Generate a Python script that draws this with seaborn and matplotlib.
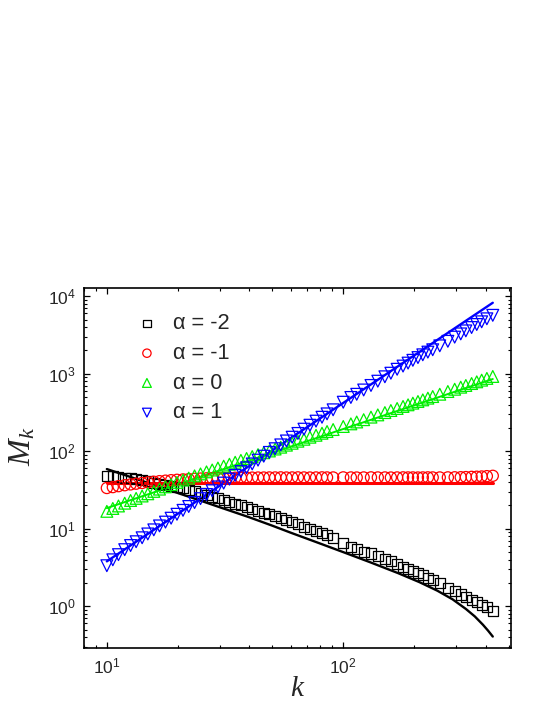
import matplotlib
matplotlib.use("Agg")
import matplotlib.pyplot as plt
import seaborn as sns
from matplotlib.ticker import LogLocator, LogFormatterSciNotation, NullFormatter

# degree k of the markers (shared by all four series)
k = [10.0, 10.6, 11.2, 11.9, 12.6, 13.3, 14.1, 14.9, 15.8, 16.7,
     17.7, 18.7, 19.8, 21.0, 22.2, 23.5, 24.9, 26.4, 27.9, 29.5,
     31.2, 33.0, 34.9, 36.9, 39.0, 41.2, 43.6, 46.1, 48.7, 51.5,
     54.4, 57.5, 60.8, 64.3, 68.2, 72.3, 76.7, 81.3, 85.4, 90.6,
     100, 107.7, 114, 122, 131, 140, 150, 159, 169, 179,
     188, 197, 207, 217, 228, 239, 256, 277, 296, 314,
     330, 349, 367, 385, 405, 429]

# simulation points
m_a_m2 = [48, 47.5, 46.8, 45.8, 44.8, 43.5, 42.2, 40.8, 39.5, 38.2,
          37.0, 35.8, 34.6, 33.3, 31.8, 30.3, 28.9, 27.4, 26.0, 24.7,
          23.4, 22.2, 21.0, 20.0, 19.0, 18.0, 17.0, 16.1, 15.3, 14.5,
          13.7, 12.9, 12.2, 11.4, 10.6, 10.0, 9.3, 8.7, 8.2, 7.5,
          6.5, 5.9, 5.5, 5.05, 4.8, 4.4, 4.08, 3.8, 3.5, 3.22,
          3.05, 2.88, 2.7, 2.52, 2.35, 2.17, 1.98, 1.72, 1.56, 1.42,
          1.3, 1.22, 1.12, 1.05, 0.98, 0.86]
m_a_m1 = [33.6, 34.5, 35.5, 36.5, 37.4, 38.2, 39.0, 39.8, 40.5, 41.2,
          41.8, 42.4, 42.9, 43.4, 43.8, 44.2, 44.5, 44.8, 45.0, 45.2,
          45.4, 45.5, 45.6, 45.7, 45.8, 45.8, 45.9, 45.9, 46.0, 46.0,
          46.1, 45.9, 46.0, 46.1, 46.0, 45.9, 46.0, 46.1, 46.0, 46.0,
          46.1, 46.0, 45.9, 46.0, 46.1, 46.0, 46.0, 45.9, 46.0, 46.1,
          46.0, 46.0, 45.9, 46.0, 46.1, 46.0, 46.0, 46.1, 46.2, 46.3,
          46.5, 46.8, 47.0, 47.3, 47.8, 48.3]
m_a_0 = [16.8, 18.3, 19.7, 21.4, 23.2, 24.7, 26.5, 28.3, 30.4, 32.5,
         34.8, 37.1, 39.7, 42.6, 45.1, 48.2, 51.1, 54.3, 57.4, 60.8,
         64.3, 68.1, 72.2, 76.4, 80.8, 85.5, 90.6, 95.8, 101, 107,
         113, 120, 127, 135, 143, 152, 161, 171, 180, 191,
         209, 226, 239, 256, 276, 295, 316, 336, 357, 379,
         398, 418, 439, 461, 485, 509, 545, 591, 632, 672,
         707, 749, 788, 828, 872, 924]
m_a_1 = [3.34, 3.98, 4.64, 5.38, 6.08, 6.81, 7.66, 8.58, 9.69, 10.9,
         12.2, 13.7, 15.4, 17.3, 19.4, 21.8, 24.5, 27.7, 31.0, 34.7,
         38.9, 43.7, 48.9, 54.8, 61.3, 68.7, 76.9, 86.5, 96.8, 108,
         121, 136, 152, 170, 193, 217, 245, 275, 304, 343,
         430, 495, 544, 618, 707, 803, 915, 1018, 1144, 1258,
         1374, 1493, 1619, 1758, 1905, 2043, 2295, 2626, 2972, 3271,
         3579, 3953, 4326, 4686, 5124, 5681]

# analytic curves
k_line = [10, 12, 15, 20, 25, 30, 40, 50, 60, 80, 100,
          130, 170, 210, 250, 290, 330, 360, 390, 410, 429]
line_m2 = [59, 49.0, 38.9, 28.9, 23.0, 19.0, 14.1, 11.0, 8.9, 6.44, 5.0,
           3.70, 2.69, 2.05, 1.59, 1.23, 0.925, 0.741, 0.577, 0.484, 0.407]
line_m1 = [39, 39, 39, 39, 39, 39, 39, 39, 39, 39, 39,
           39, 39, 39, 39, 39, 39, 39, 39, 39, 39]
line_0 = [18.5, 22.3, 28.0, 37.5, 47.1, 56.7, 76.0, 95.6, 115, 154, 194,
          253, 333, 413, 493, 574, 655, 715, 776, 817, 856]
line_1 = [3.8, 5.52, 8.70, 15.7, 24.7, 35.9, 64.6, 102, 148, 267, 421,
          719, 1244, 1916, 2736, 3706, 4825, 5765, 6791, 7523, 8254]

labels = ["α = -2", "α = -1", "α = 0", "α = 1"]
colors = ["#000000", "#ff0000", "#00ee00", "#0000ff"]

sns.set_style("ticks")
plt.rcParams["font.family"] = ["Liberation Sans", "DejaVu Sans"]
plt.rcParams["mathtext.fontset"] = "custom"
plt.rcParams["mathtext.rm"] = "Liberation Sans"
plt.rcParams["mathtext.it"] = "Liberation Serif:italic"

fig = plt.figure(figsize=(5.45, 7.05), dpi=100)
ax = fig.add_axes([0.154, 0.0809, 0.7835, 0.5106])

line_widths = [1.7, 2.2, 1.4, 1.7]
for ys, c, lw in zip([line_m2, line_m1, line_0, line_1], colors, line_widths):
    sns.lineplot(x=k_line, y=ys, color=c, linewidth=lw, ax=ax, zorder=2)

markers = ["s", "o", "^", "v"]
sizes = [52, 64, 72, 72]
for ys, c, mk, sz, lab in zip([m_a_m2, m_a_m1, m_a_0, m_a_1], colors, markers, sizes, labels):
    sns.scatterplot(x=k, y=ys, marker=mk, s=sz, facecolor="none", edgecolor=c,
                    linewidth=0.9, label=lab, ax=ax, zorder=3)

ax.set_xscale("log")
ax.set_yscale("log")
ax.set_xlim(8.0, 512)
ax.set_ylim(0.29, 12800)

ax.xaxis.set_major_locator(LogLocator(base=10))
ax.yaxis.set_major_locator(LogLocator(base=10))
ax.xaxis.set_minor_locator(LogLocator(base=10, subs=range(2, 10)))
ax.yaxis.set_minor_locator(LogLocator(base=10, subs=range(2, 10)))
ax.xaxis.set_major_formatter(LogFormatterSciNotation())
ax.yaxis.set_major_formatter(LogFormatterSciNotation())
ax.xaxis.set_minor_formatter(NullFormatter())
ax.yaxis.set_minor_formatter(NullFormatter())

ax.tick_params(which="both", direction="in", top=True, right=True, color="black")
ax.tick_params(which="major", length=4.2, width=0.9, labelsize=12.5, pad=6)
ax.tick_params(which="minor", length=2.2, width=0.8)
for sp in ax.spines.values():
    sp.set_linewidth(1.2)
    sp.set_color("black")

ax.set_xlabel(r"$k$", fontsize=21)
ax.set_ylabel(r"$M_k$", fontsize=23)
ax.xaxis.set_label_coords(0.5, -0.072)
ax.yaxis.set_label_coords(-0.108, 0.56)

handles, labs = ax.get_legend_handles_labels()
ax.legend(handles, labs, loc="upper left", bbox_to_anchor=(0.122, 0.93),
          frameon=False, fontsize=15.7, handlelength=1.0, handletextpad=0.7,
          labelspacing=0.4, borderpad=0, borderaxespad=0, markerscale=0.75)

fig.savefig("out.png", dpi=100)
